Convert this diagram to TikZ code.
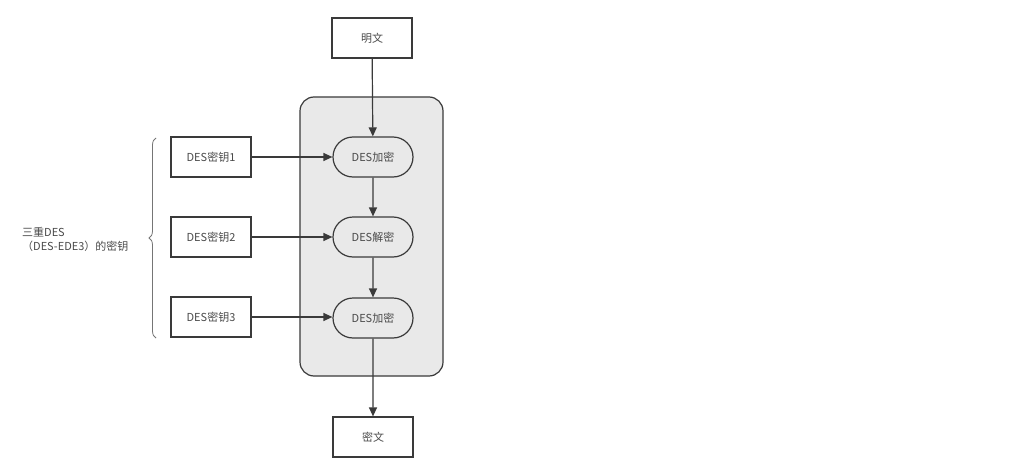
\documentclass[tikz,border=0pt]{standalone}
\usepackage{fontspec}
\setmainfont{Noto Sans CJK SC}
\usetikzlibrary{arrows.meta,shapes.misc,decorations.pathreplacing}
\definecolor{ln}{HTML}{3A3A3A}
\definecolor{tx}{HTML}{4A4A4A}
\definecolor{panel}{HTML}{E9E9E9}
\begin{document}
\begin{tikzpicture}[x=1pt,y=-1pt,
  every node/.style={text=tx,font=\fontsize{11}{14}\selectfont},
  boxnode/.style={draw=ln,line width=1.2pt,fill=white,minimum width=80pt,minimum height=40pt,inner sep=0pt},
  pill/.style={draw=ln,line width=1.2pt,fill=panel,rounded rectangle,minimum width=80pt,minimum height=40pt,inner sep=0pt},
  conn/.style={draw=ln,line width=1.2pt,-{Triangle[length=9pt,width=8pt]}}]
\useasboundingbox (0,0) rectangle (1010,471);
\fill[white] (0,0) rectangle (1010,471);
\node[draw=ln,line width=1.2pt,fill=panel,rounded corners=14pt,minimum width=143pt,minimum height=279pt,inner sep=0pt] (panel) at (371.5,236.5) {};
\node[boxnode] (pt) at (372,38) {明文};
\node[pill] (e1) at (373,157) {DES加密};
\node[pill] (d2) at (373,237) {DES解密};
\node[pill] (e3) at (373,318) {DES加密};
\node[boxnode] (ct) at (373,437) {密文};
\node[boxnode] (k1) at (211,157) {DES密钥1};
\node[boxnode] (k2) at (211,237) {DES密钥2};
\node[boxnode] (k3) at (211,317) {DES密钥3};
\draw[conn] (pt) -- (e1);
\draw[conn] (e1) -- (d2);
\draw[conn] (d2) -- (e3);
\draw[conn] (e3) -- (ct);
\draw[conn] (k1) -- (e1);
\draw[conn] (k2) -- (d2);
\draw[conn] (k3) -- (e3.west |- k3);
\coordinate (bt) at (156,138);
\coordinate (bb) at (156,338);
\draw[ln!70,line width=0.8pt,decorate,decoration={brace,amplitude=7pt,mirror,raise=0pt}] (bt) -- (bb);
\node[anchor=west,align=left,inner sep=0pt] (lbl) at (22,239) {三重DES\\（DES-EDE3）的密钥};
\end{tikzpicture}
\end{document}
